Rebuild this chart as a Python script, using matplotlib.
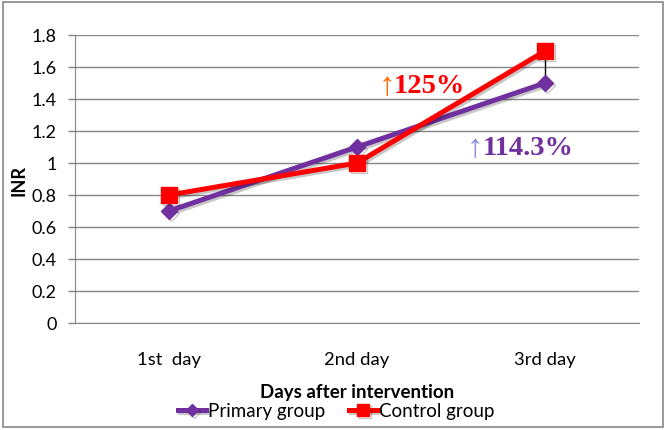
import matplotlib.pyplot as plt
import matplotlib.patheffects as pe
from matplotlib.patches import Rectangle

days = ['1st  day', '2nd day', '3rd day']
primary = [0.7, 1.1, 1.5]
control = [0.8, 1.0, 1.7]
yticks = [0, 0.2, 0.4, 0.6, 0.8, 1, 1.2, 1.4, 1.6, 1.8]
ytick_labels = ['0', '0.2', '0.4', '0.6', '0.8', '1', '1.2', '1.4', '1.6', '1.8']

GRID = '#868686'
PURPLE = '#7030A0'
RED = '#FF0000'
plt.rcParams['font.family'] = ['Lato', 'DejaVu Sans']

fig = plt.figure(figsize=(6.66, 4.31), dpi=100)
fig.patches.append(Rectangle((3 / 666, 3 / 431), 660 / 666, 425 / 431,
                             transform=fig.transFigure, fill=False,
                             edgecolor=GRID, linewidth=1.2))

ax = fig.add_axes([75 / 666, 107 / 431, 564 / 666, 288 / 431])
x = range(len(days))

# high-low lines between the two series
lo = [min(p, c) for p, c in zip(primary, control)]
hi = [max(p, c) for p, c in zip(primary, control)]
ax.vlines(x, lo, hi, color='black', linewidth=1, zorder=2)

shadow = [pe.SimpleLineShadow(offset=(1.5, -1.5), alpha=0.22), pe.Normal()]
ax.plot(x, primary, color=PURPLE, linewidth=3.6, marker='D', markersize=8,
        label='Primary group', zorder=3, path_effects=shadow)
ax.plot(x, control, color=RED, linewidth=3.6, marker='s', markersize=11,
        label='Control group', zorder=4, path_effects=shadow)

ax.set_xlim(-0.5, 2.5)
ax.set_ylim(0, 1.8)
ax.set_yticks(yticks)
ax.set_yticklabels(ytick_labels)
ax.set_xticks(list(x))
ax.set_xticklabels(days)
ax.yaxis.grid(True, color=GRID, linewidth=1)
ax.set_axisbelow(True)
for side in ['top', 'right']:
    ax.spines[side].set_visible(False)
ax.spines['left'].set_color(GRID)
ax.spines['bottom'].set_color(GRID)
ax.tick_params(axis='y', length=5, width=1, color=GRID, pad=8, labelsize=13)
ax.tick_params(axis='x', length=0, pad=20, labelsize=13.3)

ax.set_ylabel('INR', fontsize=13, fontweight='bold', labelpad=3)
ax.set_xlabel('Days after intervention', fontsize=13.5, fontweight='bold', labelpad=12)

# percentage annotations
serif = ['Liberation Serif', 'DejaVu Serif']
ax.text(1.113, 1.485, '\u2191', color='#FF6A00', fontsize=24,
        family=serif, ha='left', va='center')
ax.text(1.198, 1.485, '125%', color=RED, fontsize=20.5, fontweight='bold',
        family=serif, ha='left', va='center')
ax.text(1.585, 1.095, '\u2191', color='#8A8AE6', fontsize=24,
        family=serif, ha='left', va='center')
ax.text(1.668, 1.095, '114.3%', color=PURPLE, fontsize=20.5, fontweight='bold',
        family=serif, ha='left', va='center')

fig.legend(loc='center', bbox_to_anchor=(336 / 666, 1 - 412 / 431), ncol=2,
           frameon=False, fontsize=13.5, handlelength=1.5, handletextpad=0.1,
           columnspacing=1.3, borderaxespad=0, markerscale=0.75)

fig.savefig('out.png', dpi=100)
